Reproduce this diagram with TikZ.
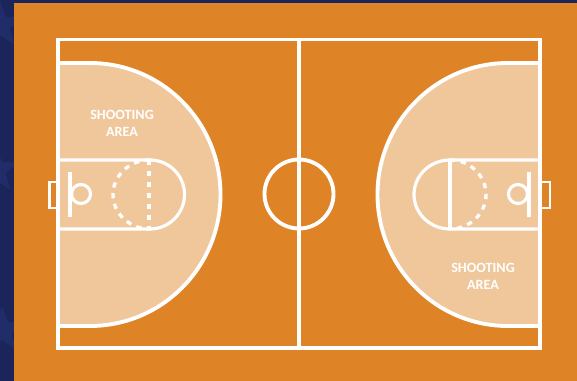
\documentclass[tikz,border=0pt]{standalone}
\usepackage{fontspec}
\usepackage{xcolor}
\usepackage{tikz}
\usetikzlibrary{shapes.geometric}
\setmainfont{Carlito}
\definecolor{navybg}{HTML}{1B2559}
\definecolor{navystar}{HTML}{212D69}
\definecolor{courtorange}{HTML}{DE8326}
\definecolor{shootarea}{HTML}{F0C69B}

\begin{document}
\begin{tikzpicture}[x=0.75pt, y=-0.75pt,
  courtline/.style={draw=white, line width=2.9pt},
  thinline/.style={draw=white, line width=2.4pt},
  boxline/.style={draw=white, line width=2pt},
  boardline/.style={draw=white, line width=3pt},
  dashline/.style={draw=white, line width=2.5pt, dash pattern=on 4pt off 4.2pt},
  arealabel/.style={text=white, font=\bfseries\fontsize{10.6}{12.8}\selectfont, align=center, inner sep=0pt},
  bgstar/.style={star, star points=5, star point ratio=2.4, fill=navystar, inner sep=0pt, minimum size=36pt}]
\useasboundingbox (0,0) rectangle (577,381);
\fill[navybg] (0,0) rectangle (577,381);
\node[bgstar] (star1) at (0,25) {};
\node[bgstar] (star2) at (-4,170) {};
\node[bgstar] (star3) at (2,330) {};
\fill[courtorange] (14,3) rectangle (577,381);

\fill[shootarea] (58,63) -- (90,63) arc[start angle=-90, end angle=90, x radius=130.5, y radius=131.5] -- (58,326) -- cycle;
\fill[shootarea] (540,63) -- (508,63) arc[start angle=-90, end angle=-270, x radius=130.5, y radius=131.5] -- (540,326) -- cycle;

\draw[courtline] (58,39.5) rectangle (540,348);
\draw[courtline] (299,39.5) -- (299,348);
\draw[courtline] (299,194) circle[radius=34.5];

\draw[courtline] (58,63) -- (90,63) arc[start angle=-90, end angle=90, x radius=130.5, y radius=131.5] -- (58,326);
\draw[courtline] (540,63) -- (508,63) arc[start angle=-90, end angle=-270, x radius=130.5, y radius=131.5] -- (540,326);

\draw[thinline] (58,160) -- (150,160) arc[start angle=-90, end angle=90, radius=34.5] -- (58,229);
\draw[thinline] (540,160) -- (450,160) arc[start angle=-90, end angle=-270, x radius=36, y radius=34.5] -- (540,229);
\draw[courtline] (450,160) -- (450,229);

\draw[dashline] (149,160) -- (149,229);
\draw[dashline] (150,160) arc[start angle=-90, end angle=-270, x radius=37, y radius=34.5];
\draw[dashline] (450,160) arc[start angle=-90, end angle=90, x radius=36, y radius=34.5];

\draw[boardline] (70,172) -- (70,217);
\draw[thinline] (81,194) circle[radius=9.5];
\draw[boardline] (529,172) -- (529,217);
\draw[thinline] (518,194) circle[radius=9.5];

\draw[boxline] (58,182) -- (49.5,182) -- (49.5,208) -- (58,208);
\draw[boxline] (540,182) -- (550,182) -- (550,208) -- (540,208);

\node[arealabel] (areaL) at (122,123) {SHOOTING\\AREA};
\node[arealabel] (areaR) at (483,276) {SHOOTING\\AREA};
\end{tikzpicture}
\end{document}
